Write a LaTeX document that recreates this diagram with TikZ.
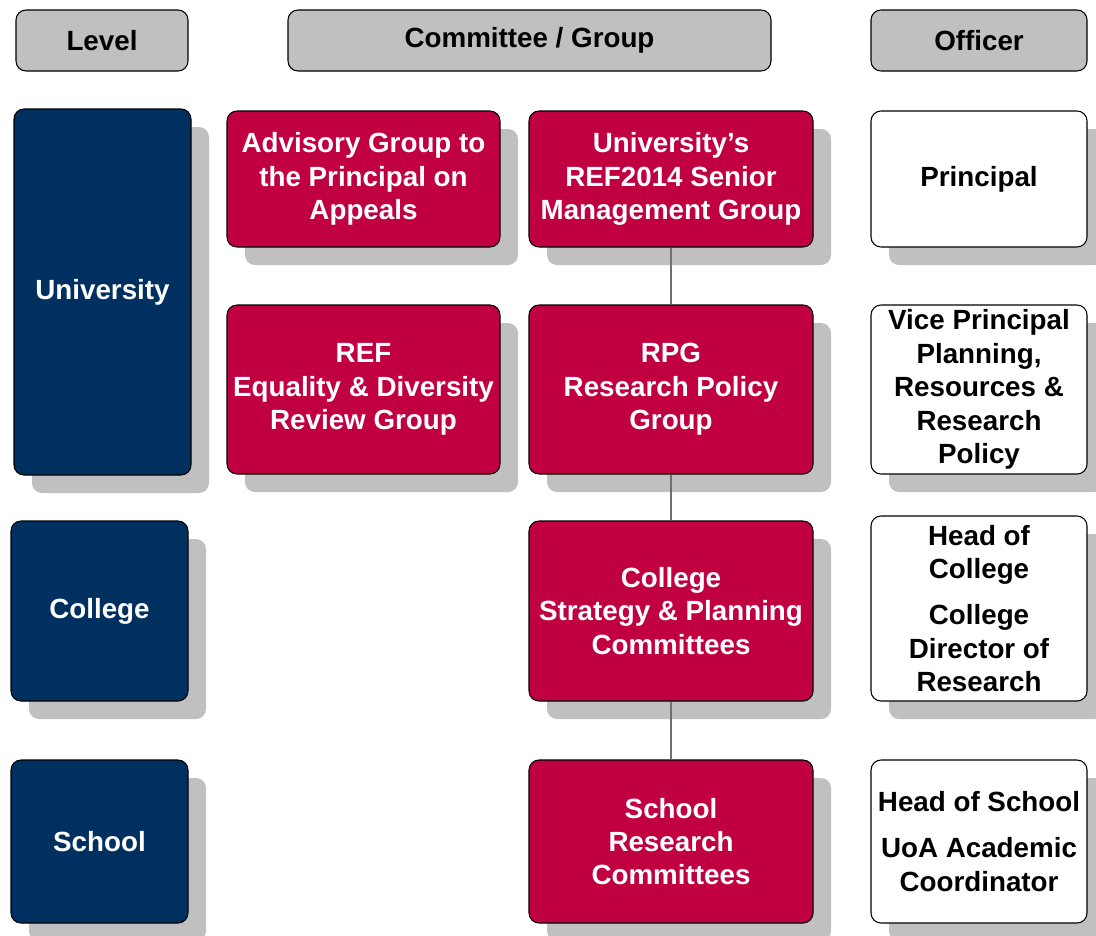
\documentclass[tikz,border=0pt]{standalone}
\usepackage{fontspec}
\setmainfont{Liberation Sans}
\usetikzlibrary{shadows}
\definecolor{navybox}{HTML}{003060}
\definecolor{redbox}{HTML}{C00040}
\definecolor{shadegray}{HTML}{C0C0C0}
\definecolor{linkgray}{HTML}{707070}

\begin{document}
\begin{tikzpicture}[
  every node/.style={font=\bfseries\fontsize{15.8}{19}\selectfont, align=center, rounded corners=0.2cm, draw=black, line width=0.6pt, inner sep=2pt},
  header/.style={fill=shadegray, minimum height=1.22cm},
  shade/.style={drop shadow={shadow xshift=0.36cm, shadow yshift=-0.36cm, fill=shadegray, opacity=1}},
  levelbox/.style={shade, fill=navybox, text=white, minimum width=3.54cm},
  groupbox/.style={shade, fill=redbox, text=white},
  officerbox/.style={shade, fill=white, text=black, minimum width=4.32cm},
  link/.style={draw=linkgray, line width=1.1pt}
]
\useasboundingbox (0,0) rectangle (21.92,-18.7);

% column headers
\node[header, minimum width=3.44cm] (hlevel) at (2.04,-0.81) {Level};
\node[header, minimum width=9.66cm] (hgroup) at (10.59,-0.81) {Committee / Group};
\node[header, minimum width=4.32cm] (hofficer) at (19.58,-0.81) {Officer};

% levels
\node[levelbox, minimum height=7.32cm] (university) at (2.05,-5.84) {University};
\node[levelbox, minimum height=3.6cm] (college) at (1.99,-12.22) {College};
\node[levelbox, minimum height=3.26cm] (school) at (1.99,-16.83) {School};

% committees and groups
\node[groupbox, minimum width=5.46cm, minimum height=2.72cm] (appeals) at (7.27,-3.58)
  {Advisory Group to\\the Principal on\\Appeals};
\node[groupbox, minimum width=5.68cm, minimum height=2.72cm] (smg) at (13.42,-3.58)
  {University's\\REF2014 Senior\\Management Group};
\node[groupbox, minimum width=5.46cm, minimum height=3.38cm] (equality) at (7.27,-7.79)
  {REF\\Equality \& Diversity\\Review Group};
\node[groupbox, minimum width=5.68cm, minimum height=3.38cm] (rpg) at (13.42,-7.79)
  {RPG\\Research Policy\\Group};
\node[groupbox, minimum width=5.68cm, minimum height=3.6cm] (strategy) at (13.42,-12.22)
  {College\\Strategy \& Planning\\Committees};
\node[groupbox, minimum width=5.68cm, minimum height=3.26cm] (schoolres) at (13.42,-16.83)
  {School\\Research\\Committees};

% officers
\node[officerbox, minimum height=2.72cm] (principal) at (19.58,-3.58) {Principal};
\node[officerbox, minimum height=3.38cm] (viceprin) at (19.58,-7.79)
  {Vice Principal\\Planning,\\Resources \&\\Research\\Policy};
\node[officerbox, minimum height=3.7cm] (headcol) at (19.58,-12.17)
  {Head of\\College\\[0.26cm]College\\Director of\\Research};
\node[officerbox, minimum height=3.26cm] (headsch) at (19.58,-16.83)
  {Head of School\\[0.26cm]UoA Academic\\Coordinator};

% reporting line
\draw[link] (smg.south) -- (rpg.north);
\draw[link] (rpg.south) -- (strategy.north);
\draw[link] (strategy.south) -- (schoolres.north);
\end{tikzpicture}
\end{document}
